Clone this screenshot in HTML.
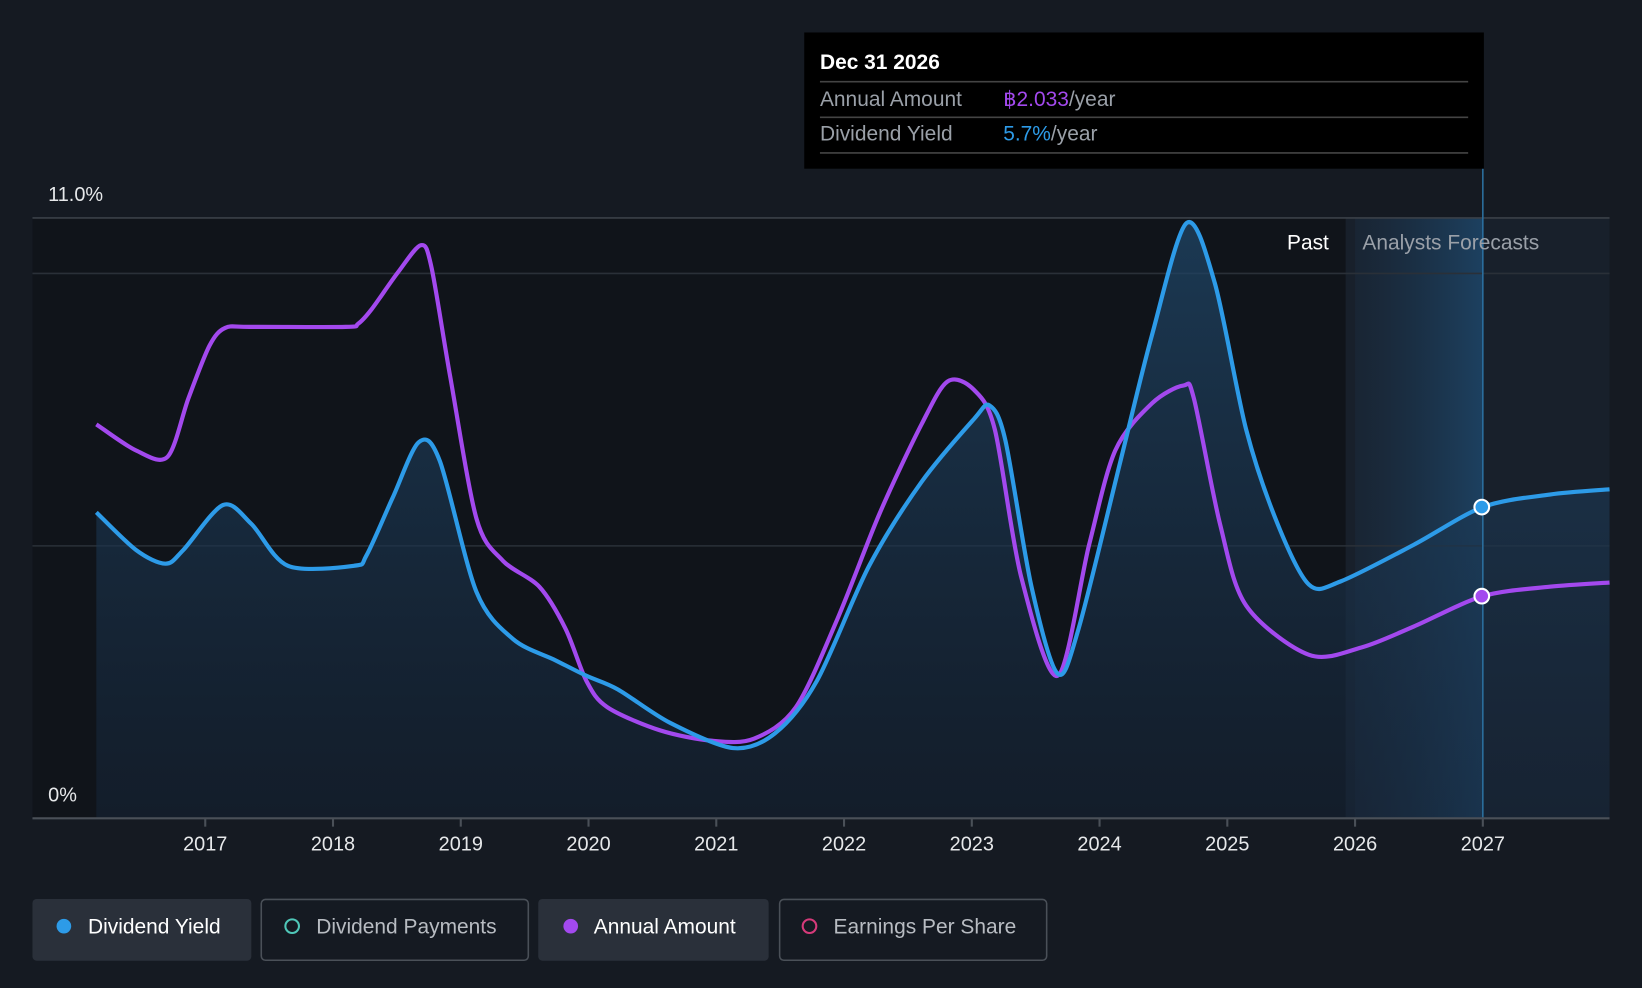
<!DOCTYPE html>
<html><head><meta charset="utf-8"><style>
html,body{margin:0;padding:0;background:#151a22;}
svg{display:block;font-family:"Liberation Sans",Arial,sans-serif;}
</style></head><body>
<svg id="s" width="1642" height="988" viewBox="0 0 1568 943" preserveAspectRatio="none" xmlns="http://www.w3.org/2000/svg">
<defs>
<linearGradient id="ag" x1="0" y1="0" x2="0" y2="1">
<stop offset="0" stop-color="#1f4566" stop-opacity="0.75"/>
<stop offset="1" stop-color="#16263a" stop-opacity="0.5"/>
</linearGradient>
<linearGradient id="fg" x1="0" y1="0" x2="1" y2="0">
<stop offset="0" stop-color="#1a2a3c" stop-opacity="0.5"/>
<stop offset="1" stop-color="#1d4466" stop-opacity="0.9"/>
</linearGradient>
</defs>
<rect width="1568" height="943" fill="#151a22"/>
<rect x="31" y="208" width="1254" height="573" fill="#10141a"/>
<rect x="1285" y="208" width="252" height="573" fill="#18202b"/>
<rect x="1294" y="208" width="122" height="573" fill="url(#fg)"/>
<line x1="31" y1="208" x2="1537" y2="208" stroke="#3a4048" stroke-width="1.5"/>
<line x1="31" y1="261" x2="1537" y2="261" stroke="#2a3038" stroke-width="1.5"/>
<line x1="31" y1="521" x2="1537" y2="521" stroke="#2a3038" stroke-width="1.5"/>
<path id="area" fill="url(#ag)"/>
<path id="pl" fill="none" stroke="#a349ee" stroke-width="4"/>
<path id="bl" fill="none" stroke="#2d9be8" stroke-width="4"/>
<line x1="1416" y1="161" x2="1416" y2="781" stroke="#2b6f9e" stroke-width="1.5"/>
<line x1="31" y1="781" x2="1537" y2="781" stroke="#4a5058" stroke-width="2"/>
<circle cx="1415" cy="484" r="7" fill="#2d9be8" stroke="#fff" stroke-width="2"/>
<circle cx="1415" cy="569" r="7" fill="#a349ee" stroke="#fff" stroke-width="2"/>
<text x="46" y="192" fill="#e6e8ea" font-size="19">11.0%</text>
<text x="46" y="765" fill="#e6e8ea" font-size="19">0%</text>
<text x="1269" y="238" fill="#fff" font-size="20" text-anchor="end">Past</text>
<text x="1301" y="238" fill="#9aa0a8" font-size="20">Analysts Forecasts</text>
<g fill="#e6e8ea" font-size="19" text-anchor="middle" id="ticks"></g>
<rect x="768" y="31" width="649" height="130" fill="#000"/>
<text x="783" y="66" fill="#fff" font-size="20" font-weight="bold">Dec 31 2026</text>
<line x1="783" y1="78" x2="1402" y2="78" stroke="#444" stroke-width="1.5"/>
<text x="783" y="101" fill="#9aa0a8" font-size="20">Annual Amount</text>
<text x="958" y="101" font-size="20"><tspan fill="#a349ee">฿2.033</tspan><tspan fill="#9aa0a8">/year</tspan></text>
<line x1="783" y1="112" x2="1402" y2="112" stroke="#444" stroke-width="1.5"/>
<text x="783" y="134" fill="#9aa0a8" font-size="20">Dividend Yield</text>
<text x="958" y="134" font-size="20"><tspan fill="#2d9be8">5.7%</tspan><tspan fill="#9aa0a8">/year</tspan></text>
<line x1="783" y1="146" x2="1402" y2="146" stroke="#444" stroke-width="1.5"/>
<rect x="31" y="858" width="209" height="59" rx="4" fill="#2a303a"/>
<circle cx="61" cy="884" r="7" fill="#2d9be8"/>
<text x="84" y="891" fill="#fff" font-size="20">Dividend Yield</text>
<rect x="249.5" y="858.5" width="255" height="58" rx="4" fill="none" stroke="#4a5058" stroke-width="1.5"/>
<circle cx="279" cy="884" r="6.5" fill="none" stroke="#4fc7b8" stroke-width="2"/>
<text x="302" y="891" fill="#b8bcc2" font-size="20">Dividend Payments</text>
<rect x="514" y="858" width="220" height="59" rx="4" fill="#2a303a"/>
<circle cx="545" cy="884" r="7" fill="#a349ee"/>
<text x="567" y="891" fill="#fff" font-size="20">Annual Amount</text>
<rect x="744.5" y="858.5" width="255" height="58" rx="4" fill="none" stroke="#4a5058" stroke-width="1.5"/>
<circle cx="773" cy="884" r="6.5" fill="none" stroke="#d63a7a" stroke-width="2"/>
<text x="796" y="891" fill="#b8bcc2" font-size="20">Earnings Per Share</text>
</svg>
<script>
var B=[[92,489],[130,525],[158,538],[175,525],[213,482],[240,500],[275,540],[338,540],[350,530],[375,475],[400,422],[420,440],[455,565],[490,610],[530,630],[560,645],[590,658],[640,690],[700,714],[740,700],[780,650],[830,540],[880,460],[930,400],[945,387],[960,420],[985,560],[1010,643],[1030,600],[1070,440],[1100,320],[1133,213],[1160,270],[1190,410],[1220,500],[1250,558],[1280,555],[1350,520],[1416,484],[1480,472],[1537,467]];
var P=[[92,405],[130,430],[160,436],[180,380],[200,330],[215,313],[240,312],[330,312],[342,309],[355,295],[380,260],[402,234],[412,255],[430,360],[455,495],[480,535],[515,560],[540,600],[560,650],[580,675],[630,697],[680,707],[720,705],[760,675],[800,590],[840,490],[880,405],[905,364],[930,372],[950,410],[975,550],[1010,645],[1040,520],[1065,430],[1100,385],[1130,368],[1140,380],[1165,500],[1190,578],[1250,625],[1300,618],[1350,598],[1416,569],[1480,560],[1537,556]];
function sm(p){var d="M"+p[0][0]+","+p[0][1];for(var i=0;i<p.length-1;i++){var a=p[Math.max(0,i-1)],b=p[i],c=p[i+1],e=p[Math.min(p.length-1,i+2)];var t=0.15;d+=" C"+(b[0]+(c[0]-a[0])*t)+","+(b[1]+(c[1]-a[1])*t)+" "+(c[0]-(e[0]-b[0])*t)+","+(c[1]-(e[1]-b[1])*t)+" "+c[0]+","+c[1];}return d;}
var bd=sm(B);
document.getElementById('bl').setAttribute('d',bd);
document.getElementById('pl').setAttribute('d',sm(P));
document.getElementById('area').setAttribute('d',bd+" L1537,781 L92,781 Z");
var g=document.getElementById('ticks'),ns="http://www.w3.org/2000/svg";
for(var y=2017;y<=2027;y++){var x=196+(y-2017)*122;var l=document.createElementNS(ns,'line');l.setAttribute('x1',x);l.setAttribute('x2',x);l.setAttribute('y1',781);l.setAttribute('y2',789);l.setAttribute('stroke','#4a5058');l.setAttribute('stroke-width','2');g.appendChild(l);var t=document.createElementNS(ns,'text');t.setAttribute('x',x);t.setAttribute('y',812);t.textContent=y;g.appendChild(t);}
</script>
</body></html>
